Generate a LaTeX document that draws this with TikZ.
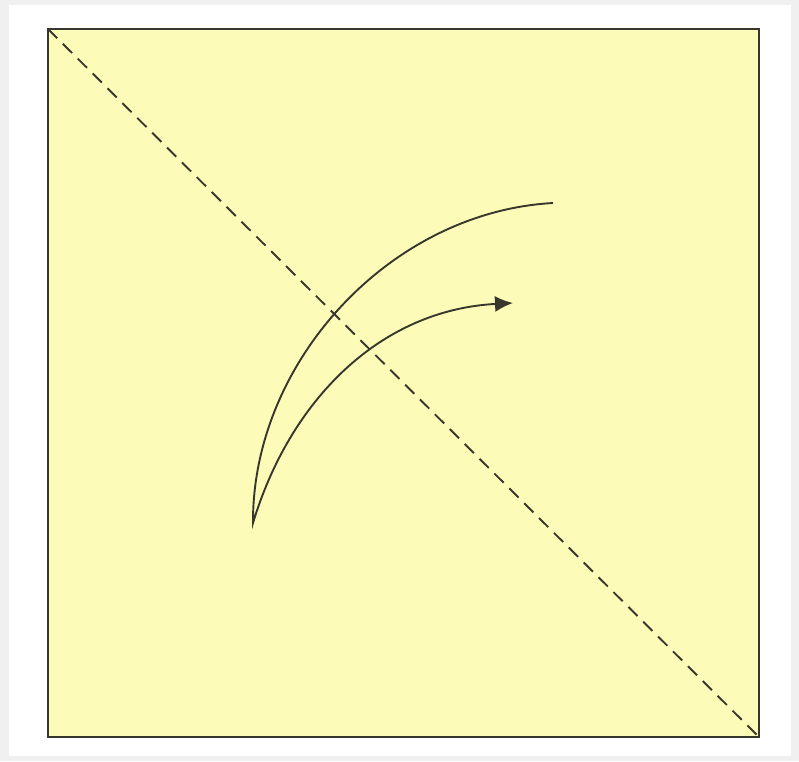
\documentclass[tikz,border=0pt]{standalone}
\usepackage{tikz}
\usetikzlibrary{arrows.meta}
\definecolor{paper}{RGB}{253,251,184}
\definecolor{ink}{RGB}{55,55,45}
\tikzset{
  sheet/.style={fill=paper, draw=ink, line width=1.8pt},
  crease/.style={draw=ink, line width=1.9pt, dash pattern=on 13pt off 8pt},
  foldarr/.style={draw=ink, line width=1.9pt, -{Latex[length=18pt, width=16pt]}}
}
\begin{document}
\begin{tikzpicture}[x=1pt, y=-1pt]
    \useasboundingbox (0,0) rectangle (799,761);
    \fill[gray!12] (0,0) rectangle (799,761);
    \fill[white] (9,5) rectangle (791,756);
    \draw[sheet] (48,29) rectangle (759,737);
    \coordinate (tl) at (48,29);
    \coordinate (br) at (759,737);
    \coordinate (start) at (553,203);
    \coordinate (tip) at (253,523);
    \coordinate (end) at (513,303);
    % valley fold along the diagonal
    \draw[crease] (tl) -- (br);
    \draw[foldarr, line join=miter] (start) .. controls (390,212) and (252,362) .. (tip)
        .. controls (290,400) and (380,310) .. (end);
  \end{tikzpicture}
\end{document}
